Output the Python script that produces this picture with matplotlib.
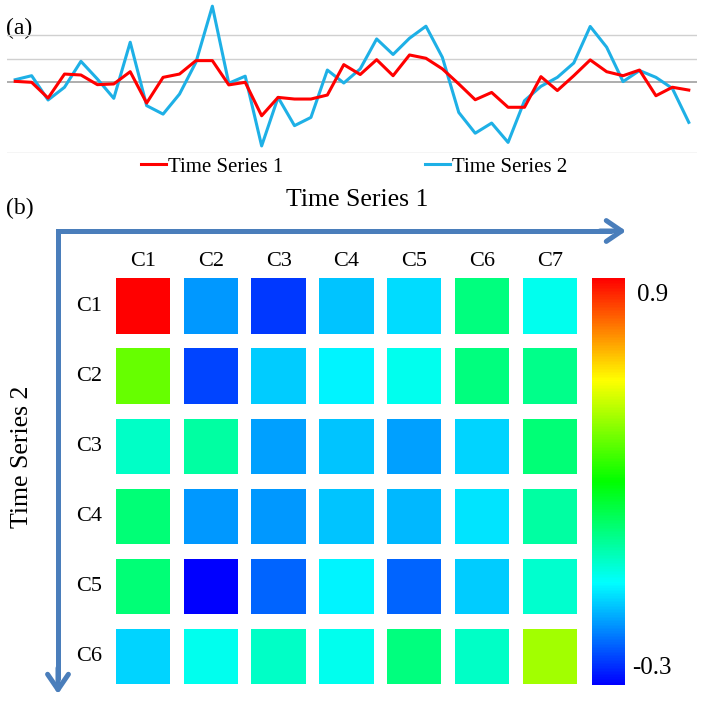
import numpy as np
import matplotlib
matplotlib.use("Agg")
import matplotlib.pyplot as plt
from matplotlib.colors import LinearSegmentedColormap, Normalize
from matplotlib.cm import ScalarMappable
from matplotlib.patches import Rectangle

plt.rcParams['font.family'] = ['Liberation Serif', 'DejaVu Serif']

# panel (a): two time series
series1 = [0.04, 0.00, -0.67, 0.35, 0.31, -0.10, -0.07, 0.45, -0.88, 0.21,
           0.35, 0.92, 0.92, -0.11, 0.00, -1.42, -0.64, -0.71, -0.71, -0.54,
           0.75, 0.33, 0.96, 0.28, 1.16, 1.02, 0.57, -0.07, -0.74, -0.43,
           -1.06, -1.06, 0.24, -0.35, 0.28, 0.95, 0.45, 0.28, 0.52, -0.57,
           -0.21, -0.33]
series2 = [0.11, 0.28, -0.75, -0.21, 0.89, 0.14, -0.68, 1.70, -0.99, -1.35,
           -0.50, 0.85, 3.23, -0.04, 0.26, -2.70, -0.64, -1.84, -1.49, 0.52,
           -0.03, 0.57, 1.84, 1.18, 1.87, 2.38, 1.06, -1.28, -2.16, -1.73,
           -2.55, -0.78, -0.17, 0.21, 0.82, 2.37, 1.49, 0.03, 0.50, 0.21,
           -0.26, -1.70]
series_names = ["Time Series 1", "Time Series 2"]
grid_levels = [2, 1, -3]

# panel (b): correlation between clusters
row_labels = ["C1", "C2", "C3", "C4", "C5", "C6"]
col_labels = ["C1", "C2", "C3", "C4", "C5", "C6", "C7"]
corr = [
    [0.90, -0.12, -0.23, -0.07, -0.04, 0.15, 0.02],
    [0.42, -0.22, -0.06, -0.01, 0.02, 0.15, 0.14],
    [0.07, 0.11, -0.11, -0.07, -0.11, -0.05, 0.16],
    [0.16, -0.12, -0.12, -0.07, -0.08, -0.03, 0.11],
    [0.16, -0.30, -0.18, -0.01, -0.18, -0.06, 0.06],
    [-0.05, 0.02, 0.07, 0.02, 0.15, 0.07, 0.49],
]
vmin, vmax = -0.3, 0.9

W, H = 704, 703
fig = plt.figure(figsize=(W / 100, H / 100), dpi=100)


def fig_rect(x0, y0, x1, y1):
    # pixel box (top-left origin) -> figure fraction rect
    return [x0 / W, 1 - y1 / H, (x1 - x0) / W, (y1 - y0) / H]


# ---- (a) line chart
ax1 = fig.add_axes(fig_rect(7, 1, 697, 153))
x = np.arange(len(series1))
for lv in grid_levels:
    ax1.axhline(lv, color='#d0d0d0', lw=1.0, zorder=0)
ax1.axhline(0, color='#a0a0a0', lw=1.2, zorder=0)
ax1.plot(x, series1, color='#ff0000', lw=2.2, label=series_names[0], zorder=3)
ax1.plot(x, series2, color='#1eb0e6', lw=2.2, label=series_names[1], zorder=2)
ax1.set_xlim(-0.5, len(series1) - 0.5)
ax1.set_ylim(-3, 3.45)
ax1.axis('off')
fig.legend(loc='center', bbox_to_anchor=(354.5 / W, 1 - 167 / H), ncol=2,
           frameon=False, fontsize=15, handlelength=1.2, handletextpad=0.1,
           columnspacing=6.8)

# ---- (b) heatmap
cmap = LinearSegmentedColormap.from_list(
    'rainbow5', [(0, '#0000ff'), (0.25, '#00ffff'), (0.5, '#00ff00'),
                 (0.75, '#ffff00'), (1, '#ff0000')])
norm = Normalize(vmin, vmax)

ax2 = fig.add_axes(fig_rect(109, 271, 584, 691.5))
cw, ch = 0.80, 0.79
for i, row in enumerate(corr):
    for j, v in enumerate(row):
        ax2.add_patch(Rectangle((j - cw / 2, i - ch / 2), cw, ch,
                                facecolor=cmap(norm(v)), edgecolor='none'))
ax2.set_xlim(-0.5, len(col_labels) - 0.5)
ax2.set_ylim(len(row_labels) - 0.5, -0.5)
ax2.axis('off')
for j, lab in enumerate(col_labels):
    ax2.text(j, -0.63, lab, ha='center', va='center', fontsize=16)
for i, lab in enumerate(row_labels):
    ax2.text(-0.8, i, lab, ha='center', va='center', fontsize=16)

cax = fig.add_axes(fig_rect(592, 278, 625, 685))
cb = fig.colorbar(ScalarMappable(norm=norm, cmap=cmap), cax=cax)
cb.outline.set_visible(False)
cb.set_ticks([])
cax.text(1.36, 0.958, f"{vmax:g}", transform=cax.transAxes, ha='left',
         va='center', fontsize=18)
cax.text(1.21, 0.042, f"{vmin:g}", transform=cax.transAxes, ha='left',
         va='center', fontsize=18)

# ---- overlay: panel letters, axis arrows and titles
ov = fig.add_axes([0, 0, 1, 1], zorder=-1)
ov.set_xlim(0, W)
ov.set_ylim(H, 0)
ov.axis('off')
ov.text(6, 28, "(a)", ha='left', va='center', fontsize=17)
ov.text(6, 208, "(b)", ha='left', va='center', fontsize=17)
ov.text(357, 200, series_names[0], ha='center', va='center', fontsize=18.5)
ov.text(22, 457, series_names[1], ha='center', va='center', fontsize=18.5,
        rotation=90)

arrow_col = '#4a7ebb'
ov.plot([612, 58, 58], [231, 231, 680], color=arrow_col, lw=3.6,
        solid_joinstyle='miter', solid_capstyle='butt')
head = dict(arrowstyle='->, head_length=1.1, head_width=0.75', lw=3.6,
            color=arrow_col, mutation_scale=10, shrinkA=0, shrinkB=0)
ov.annotate('', xy=(626, 231), xytext=(600, 231), arrowprops=head)
ov.annotate('', xy=(58, 694), xytext=(58, 668), arrowprops=head)

fig.savefig('out.png', dpi=100)
